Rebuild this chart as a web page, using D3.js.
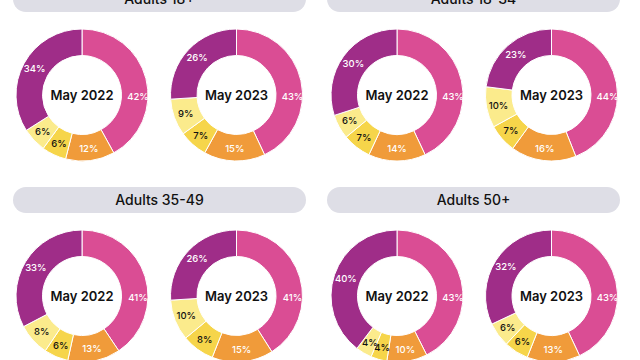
<!DOCTYPE html>
<html><head><meta charset="utf-8">
<script src="https://cdn.jsdelivr.net/npm/d3@7"></script>
<style>
html,body{margin:0;padding:0;background:#fff;}
svg{display:block;font-family:Inter,"Noto Sans",sans-serif;}
</style></head>
<body>
<svg id="chart" width="640" height="360"></svg>
<script>
const groups = ["Adults 18+", "Adults 18-34", "Adults 35-49", "Adults 50+"];
const periods = ["May 2022", "May 2023"];
const segments = ["s1", "s2", "s3", "s4", "s5"];
const colors = ["#DA4D94", "#F09B3A", "#F6D54A", "#FBEB8C", "#9F2D88"];
const labelColors = ["#fff", "#fff", "#111", "#111", "#fff"];
// values per group, per period, clockwise from top
const adults18plus = [[42, 12, 6, 6, 34], [43, 15, 7, 9, 26]];
const adults18to34 = [[43, 14, 7, 6, 30], [44, 16, 7, 10, 23]];
const adults35to49 = [[41, 13, 6, 8, 33], [41, 15, 8, 10, 26]];
const adults50plus = [[43, 10, 4, 4, 40], [43, 13, 6, 6, 32]];
const allValues = [adults18plus, adults18to34, adults35to49, adults50plus];

const svg = d3.select("#chart");
const panelX = [0, 314];
const panelY = [-1, 200];
const outerR = 66, innerR = 39.5;

const pie = d3.pie().sort(null).value(d => d.v);
const arc = d3.arc().innerRadius(innerR).outerRadius(outerR);

groups.forEach((g, gi) => {
  const px = panelX[gi % 2], py = panelY[Math.floor(gi / 2)];
  const panel = svg.append("g").attr("transform", `translate(${px},${py})`);
  panel.append("rect").attr("x", 13).attr("y", -13).attr("width", 293).attr("height", 26)
    .attr("rx", 13).attr("fill", "#DEDEE6");
  panel.append("text").attr("x", 159.5).attr("y", 0).attr("dy", "0.36em")
    .attr("text-anchor", "middle").attr("font-size", 14).attr("font-weight", 500)
    .attr("fill", "#111").text(g);

  periods.forEach((p, pi) => {
    const cx = 82 + pi * 154.5 + (gi % 2 ? 1 : 0), cy = 96;
    const dg = panel.append("g").attr("transform", `translate(${cx},${cy})`);
    const data = allValues[gi][pi].map((v, i) => ({ v, i }));
    const arcs = pie(data);
    dg.selectAll("path").data(arcs).join("path")
      .attr("d", arc).attr("fill", d => colors[d.data.i])
      .attr("stroke", "#fff").attr("stroke-width", 1);
    dg.selectAll("text.lbl").data(arcs).join("text").attr("class", "lbl")
      .attr("transform", d => {
        let a = (d.startAngle + d.endAngle) / 2;
        if (d.startAngle <= Math.PI / 2 && d.endAngle >= Math.PI / 2) a = Math.PI / 2 + 0.03;
        const r = d.data.i === 0 ? 56 : 54;
        return `translate(${r * Math.sin(a)},${-r * Math.cos(a)})`;
      })
      .attr("text-anchor", "middle").attr("dy", "0.36em")
      .attr("font-size", 9.5).attr("font-weight", 500)
      .attr("fill", d => labelColors[d.data.i])
      .text(d => d.data.v + "%");
    dg.append("text").attr("text-anchor", "middle").attr("dy", "0.36em")
      .attr("font-size", 13).attr("font-weight", 600).attr("fill", "#111").text(p);
  });
});
</script>
</body></html>
